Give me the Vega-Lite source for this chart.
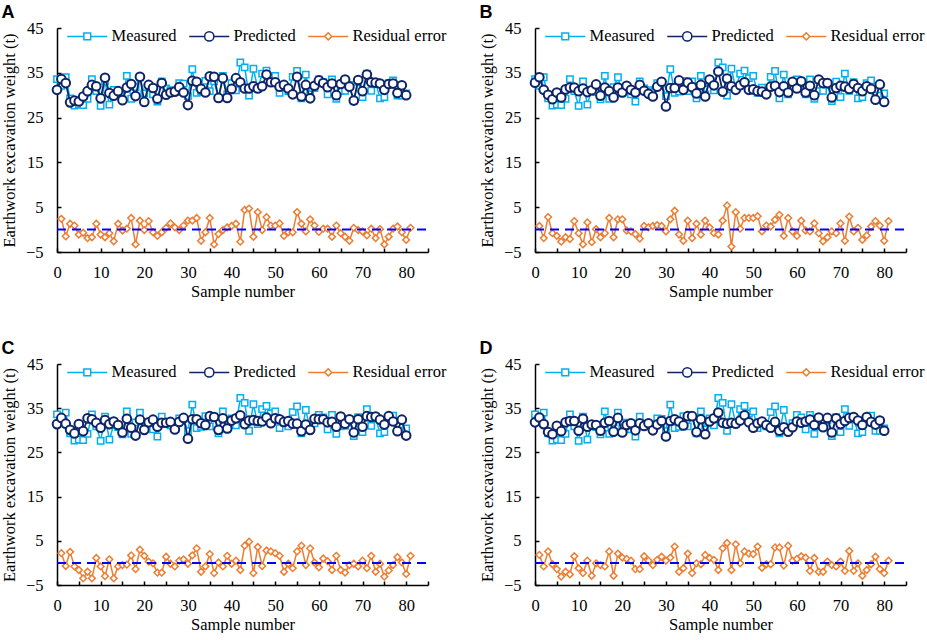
{
  "$schema": "https://vega.github.io/schema/vega-lite/v6.json",
  "background": "white",
  "padding": {"left": 1, "top": 4, "right": 0, "bottom": 0},
  "datasets": {
    "rows": [
      {"n":0,"m":33.6,"pA":31.2,"pB":32.8,"pC":31.4,"pD":31.8},
      {"n":1,"m":32.1,"pA":33.6,"rA":2.4,"pB":34.0,"rB":0.8,"pC":32.8,"rC":2.2,"pD":32.9,"rD":1.8},
      {"n":2,"m":34.0,"pA":32.7,"rA":-1.5,"pB":31.2,"rB":-1.9,"pC":31.5,"rC":-0.7,"pD":31.4,"rD":-0.8},
      {"n":3,"m":29.3,"pA":28.4,"rA":1.3,"pB":30.1,"rB":2.8,"pC":30.1,"rC":2.5,"pD":29.6,"rD":2.6},
      {"n":4,"m":27.7,"pA":28.8,"rA":0.9,"pB":29.1,"rB":-0.8,"pC":29.3,"rC":-0.8,"pD":29.1,"rD":-0.3},
      {"n":5,"m":27.9,"pA":28.6,"rA":-1.1,"pB":30.6,"rB":-1.4,"pC":31.4,"rC":-1.6,"pD":31.0,"rD":-1.4},
      {"n":6,"m":27.8,"pA":29.7,"rA":-0.7,"pB":29.5,"rB":-2.7,"pC":29.8,"rC":-3.5,"pD":29.8,"rD":-3.1},
      {"n":7,"m":29.2,"pA":30.9,"rA":-1.9,"pB":31.3,"rB":-1.7,"pC":32.7,"rC":-2.0,"pD":31.8,"rD":-2.0},
      {"n":8,"m":33.6,"pA":32.3,"rA":-1.7,"pB":31.7,"rB":-2.1,"pC":32.5,"rC":-3.5,"pD":32.1,"rD":-2.6},
      {"n":9,"m":30.9,"pA":32.0,"rA":1.3,"pB":31.7,"rB":1.9,"pC":31.7,"rC":1.1,"pD":32.1,"rD":1.5},
      {"n":10,"m":27.6,"pA":29.3,"rA":-1.1,"pB":30.9,"rB":-0.8,"pC":30.6,"rC":-0.8,"pD":29.9,"rD":-1.2},
      {"n":11,"m":33.1,"pA":33.9,"rA":-1.7,"pB":31.5,"rB":-3.3,"pC":32.3,"rC":-3.0,"pD":32.6,"rD":-2.3},
      {"n":12,"m":27.9,"pA":30.5,"rA":-0.8,"pB":30.7,"rB":1.6,"pC":31.4,"rC":0.8,"pD":30.8,"rD":0.5},
      {"n":13,"m":31.2,"pA":29.9,"rA":-2.6,"pB":31.1,"rB":-2.8,"pC":32.0,"rC":-3.5,"pD":31.3,"rD":-2.9},
      {"n":14,"m":30.7,"pA":30.9,"rA":1.3,"pB":32.4,"rB":0.1,"pC":31.2,"rC":-0.8,"pD":31.2,"rD":-0.1},
      {"n":15,"m":29.1,"pA":28.9,"rA":-0.2,"pB":29.9,"rB":-1.7,"pC":29.5,"rC":-0.5,"pD":29.9,"rD":-0.5},
      {"n":16,"m":34.3,"pA":31.7,"rA":0.2,"pB":31.7,"rB":-0.8,"pC":32.6,"rC":-0.4,"pD":31.7,"rD":-0.8},
      {"n":17,"m":29.2,"pA":32.5,"rA":2.6,"pB":30.9,"rB":2.6,"pC":30.6,"rC":1.7,"pD":32.1,"rD":2.6},
      {"n":18,"m":31.8,"pA":29.8,"rA":-3.3,"pB":29.5,"rB":-1.7,"pC":28.8,"rC":-1.4,"pD":29.7,"rD":-2.9},
      {"n":19,"m":34.0,"pA":34.1,"rA":2.0,"pB":31.7,"rB":2.3,"pC":32.4,"rC":3.0,"pD":32.8,"rD":2.1},
      {"n":20,"m":30.4,"pA":28.5,"rA":-0.1,"pB":30.6,"rB":2.3,"pC":30.1,"rC":1.6,"pD":29.5,"rD":1.2},
      {"n":21,"m":31.7,"pA":32.3,"rA":1.9,"pB":32.1,"rB":-0.2,"pC":31.8,"rC":0.3,"pD":31.2,"rD":0.9},
      {"n":22,"m":30.2,"pA":31.6,"rA":-0.6,"pB":31.2,"rB":-0.4,"pC":32.4,"rC":-0.1,"pD":31.6,"rD":0.5},
      {"n":23,"m":28.6,"pA":29.2,"rA":-1.4,"pB":30.6,"rB":-1.0,"pC":30.8,"rC":-2.2,"pD":30.0,"rD":-1.4},
      {"n":24,"m":33.1,"pA":32.7,"rA":-0.6,"pB":32.3,"rB":-2.0,"pC":31.7,"rC":-2.2,"pD":31.6,"rD":-1.4},
      {"n":25,"m":31.5,"pA":30.1,"rA":0.4,"pB":31.0,"rB":0.8,"pC":31.7,"rC":1.4,"pD":31.0,"rD":1.5},
      {"n":26,"m":31.1,"pA":30.6,"rA":1.4,"pB":30.3,"rB":0.5,"pC":31.9,"rC":-0.2,"pD":31.6,"rD":0.5},
      {"n":27,"m":30.7,"pA":30.8,"rA":0.5,"pB":29.7,"rB":0.8,"pC":30.2,"rC":-0.8,"pD":30.0,"rD":-0.5},
      {"n":28,"m":32.7,"pA":31.8,"rA":-0.1,"pB":31.9,"rB":1.0,"pC":31.9,"rC":0.5,"pD":31.3,"rD":0.7},
      {"n":29,"m":32.6,"pA":30.6,"rA":0.9,"pB":33.0,"rB":0.8,"pC":32.8,"rC":0.8,"pD":32.1,"rD":1.4},
      {"n":30,"m":29.8,"pA":27.8,"rA":2.0,"pB":27.5,"rB":-0.4,"pC":28.1,"rC":-0.2,"pD":28.6,"rD":0.5},
      {"n":31,"m":35.8,"pA":33.2,"rA":2.0,"pB":31.6,"rB":2.3,"pC":32.5,"rC":1.7,"pD":32.1,"rD":1.2},
      {"n":32,"m":30.5,"pA":33.0,"rA":2.6,"pB":31.6,"rB":4.2,"pC":32.5,"rC":3.3,"pD":32.5,"rD":3.7},
      {"n":33,"m":30.8,"pA":31.4,"rA":-2.5,"pB":33.3,"rB":-1.1,"pC":31.6,"rC":-2.0,"pD":32.0,"rD":-2.0},
      {"n":34,"m":33.2,"pA":30.6,"rA":-0.6,"pB":31.2,"rB":-2.5,"pC":31.2,"rC":-0.8,"pD":31.1,"rD":-1.2},
      {"n":35,"m":30.9,"pA":34.2,"rA":2.6,"pB":32.8,"rB":2.0,"pC":33.2,"rC":2.0,"pD":33.2,"rD":2.1},
      {"n":36,"m":33.1,"pA":34.1,"rA":-3.3,"pB":31.8,"rB":-1.9,"pC":33.0,"rC":-2.3,"pD":33.2,"rD":-2.3},
      {"n":37,"m":29.3,"pA":29.4,"rA":-1.0,"pB":30.4,"rB":1.3,"pC":30.1,"rC":0.1,"pD":29.6,"rD":-0.1},
      {"n":38,"m":34.3,"pA":33.8,"rA":-0.1,"pB":32.3,"rB":-1.1,"pC":32.7,"rC":-0.8,"pD":32.5,"rD":-0.3},
      {"n":39,"m":30.2,"pA":29.4,"rA":0.5,"pB":29.7,"rB":2.0,"pC":30.4,"rC":1.6,"pD":29.1,"rD":1.8},
      {"n":40,"m":32.7,"pA":31.4,"rA":0.8,"pB":33.5,"rB":0.5,"pC":32.2,"rC":-0.2,"pD":32.0,"rD":1.1},
      {"n":41,"m":31.1,"pA":33.8,"rA":1.3,"pB":32.2,"rB":-0.8,"pC":32.7,"rC":0.5,"pD":32.7,"rD":0.7},
      {"n":42,"m":37.3,"pA":32.9,"rA":-2.7,"pB":35.3,"rB":-1.1,"pC":33.4,"rC":-1.6,"pD":34.0,"rD":-1.6},
      {"n":43,"m":36.2,"pA":31.5,"rA":4.4,"pB":30.8,"rB":2.0,"pC":31.4,"rC":3.9,"pD":31.7,"rD":3.3},
      {"n":44,"m":29.9,"pA":31.5,"rA":4.7,"pB":33.7,"rB":5.4,"pC":32.2,"rC":4.8,"pD":31.5,"rD":4.5},
      {"n":45,"m":35.9,"pA":32.0,"rA":-1.6,"pB":32.0,"rB":-3.8,"pC":32.3,"rC":-2.3,"pD":31.7,"rD":-1.6},
      {"n":46,"m":31.4,"pA":31.5,"rA":3.9,"pB":31.2,"rB":3.9,"pC":32.1,"rC":3.6,"pD":31.5,"rD":4.2},
      {"n":47,"m":34.8,"pA":32.0,"rA":-0.1,"pB":32.2,"rB":0.2,"pC":32.0,"rC":-0.7,"pD":32.2,"rD":-0.1},
      {"n":48,"m":35.5,"pA":34.6,"rA":2.8,"pB":32.9,"rB":2.6,"pC":32.9,"rC":2.8,"pD":33.4,"rD":2.6},
      {"n":49,"m":33.8,"pA":32.9,"rA":0.9,"pB":31.2,"rB":2.6,"pC":31.6,"rC":2.6,"pD":31.8,"rD":2.1},
      {"n":50,"m":34.3,"pA":32.9,"rA":0.9,"pB":31.3,"rB":2.6,"pC":32.7,"rC":2.2,"pD":30.6,"rD":2.0},
      {"n":51,"m":30.5,"pA":31.9,"rA":1.4,"pB":30.9,"rB":3.0,"pC":32.5,"rC":1.6,"pD":31.6,"rD":3.7},
      {"n":52,"m":31.7,"pA":32.3,"rA":-1.4,"pB":30.8,"rB":-0.4,"pC":31.9,"rC":-2.0,"pD":32.0,"rD":-1.1},
      {"n":53,"m":30.9,"pA":31.5,"rA":-0.6,"pB":30.2,"rB":0.9,"pC":32.1,"rC":-0.2,"pD":31.2,"rD":-0.3},
      {"n":54,"m":34.1,"pA":30.2,"rA":-0.6,"pB":31.9,"rB":0.7,"pC":31.5,"rC":-1.2,"pD":30.6,"rD":-0.3},
      {"n":55,"m":35.4,"pA":34.1,"rA":3.9,"pB":32.1,"rB":2.2,"pC":31.5,"rC":2.6,"pD":31.9,"rD":3.5},
      {"n":56,"m":29.3,"pA":29.7,"rA":1.3,"pB":30.7,"rB":3.3,"pC":29.8,"rC":3.9,"pD":29.9,"rD":3.5},
      {"n":57,"m":34.6,"pA":32.3,"rA":-0.4,"pB":32.0,"rB":-1.4,"pC":31.3,"rC":-0.5,"pD":30.7,"rD":-0.6},
      {"n":58,"m":30.2,"pA":29.3,"rA":2.3,"pB":30.6,"rB":2.6,"pC":30.1,"rC":3.3,"pD":29.7,"rD":3.9},
      {"n":59,"m":31.6,"pA":32.1,"rA":0.9,"pB":33.0,"rB":-0.4,"pC":32.6,"rC":0.1,"pD":30.7,"rD":0.5},
      {"n":60,"m":33.5,"pA":33.3,"rA":-0.5,"pB":31.5,"rB":-1.4,"pC":32.5,"rC":-1.0,"pD":32.0,"rD":0.9},
      {"n":61,"m":32.9,"pA":32.7,"rA":0.2,"pB":33.1,"rB":2.0,"pC":32.5,"rC":1.0,"pD":31.7,"rD":1.5},
      {"n":62,"m":30.2,"pA":31.8,"rA":0.2,"pB":30.6,"rB":-0.2,"pC":31.8,"rC":0.4,"pD":32.0,"rD":1.2},
      {"n":63,"m":33.5,"pA":32.6,"rA":-1.6,"pB":32.1,"rB":-0.4,"pC":31.9,"rC":-1.6,"pD":32.4,"rD":-1.8},
      {"n":64,"m":29.2,"pA":30.0,"rA":0.9,"pB":30.0,"rB":1.4,"pC":30.8,"rC":1.6,"pD":31.2,"rD":1.1},
      {"n":65,"m":30.9,"pA":32.5,"rA":-0.8,"pB":33.5,"rB":-0.8,"pC":33.1,"rC":-1.6,"pD":32.9,"rD":-2.0},
      {"n":66,"m":31.0,"pA":33.5,"rA":-1.6,"pB":32.7,"rB":-2.6,"pC":31.5,"rC":-2.2,"pD":30.7,"rD":-2.0},
      {"n":67,"m":32.3,"pA":31.9,"rA":-2.5,"pB":32.7,"rB":-1.7,"pC":32.5,"rC":-0.5,"pD":32.8,"rD":0.3},
      {"n":68,"m":28.7,"pA":28.8,"rA":0.4,"pB":29.5,"rB":-0.4,"pC":29.5,"rC":-0.2,"pD":29.5,"rD":-0.5},
      {"n":69,"m":33.0,"pA":33.4,"rA":-0.1,"pB":31.6,"rB":-0.8,"pC":32.5,"rC":-0.8,"pD":32.7,"rD":-0.8},
      {"n":70,"m":29.6,"pA":30.9,"rA":-0.4,"pB":32.1,"rB":1.4,"pC":30.8,"rC":0.5,"pD":31.4,"rD":0.3},
      {"n":71,"m":34.8,"pA":34.6,"rA":-1.3,"pB":31.9,"rB":-2.5,"pC":33.2,"rC":-1.2,"pD":32.1,"rD":-1.8},
      {"n":72,"m":31.0,"pA":32.9,"rA":0.2,"pB":31.4,"rB":2.9,"pC":33.0,"rC":1.6,"pD":32.8,"rD":2.7},
      {"n":73,"m":32.9,"pA":32.8,"rA":-1.9,"pB":32.5,"rB":-0.4,"pC":33.1,"rC":-2.0,"pD":33.0,"rD":-1.8},
      {"n":74,"m":29.3,"pA":32.6,"rA":0.1,"pB":31.6,"rB":0.4,"pC":32.4,"rC":-0.2,"pD":32.2,"rD":-0.1},
      {"n":75,"m":29.6,"pA":31.2,"rA":-3.3,"pB":30.9,"rB":-2.3,"pC":31.3,"rC":-3.1,"pD":31.2,"rD":-2.9},
      {"n":76,"m":32.7,"pA":32.5,"rA":-1.6,"pB":32.0,"rB":-1.3,"pC":33.2,"rC":-1.7,"pD":33.0,"rD":-1.6},
      {"n":77,"m":33.3,"pA":32.6,"rA":0.2,"pB":31.4,"rB":0.7,"pC":32.0,"rC":-0.5,"pD":31.9,"rD":-0.3},
      {"n":78,"m":29.9,"pA":30.5,"rA":0.7,"pB":29.0,"rB":1.9,"pC":29.8,"rC":1.3,"pD":31.3,"rD":1.4},
      {"n":79,"m":29.9,"pA":32.2,"rA":-0.6,"pB":32.4,"rB":0.9,"pC":32.4,"rC":0.1,"pD":32.2,"rD":-1.4},
      {"n":80,"m":30.4,"pA":30.0,"rA":-2.3,"pB":28.5,"rB":-2.5,"pC":28.8,"rC":-2.5,"pD":29.9,"rD":-2.3},
      {"n":81,"rA":0.4,"rB":1.9,"rC":1.6,"rD":0.5}
    ]
  },
  "data": {"name": "rows"},
  "columns": 2,
  "spacing": {"row": 40, "column": 32},
  "resolve": {"scale": {"color": "independent"}, "legend": {"color": "independent"}},
  "concat": [
    {
      "title": {"text": "A"},
      "width": 371,
      "height": 224,
      "encoding": {
        "x": {"field": "n", "type": "quantitative", "title": "Sample number",
              "scale": {"domain": [0, 85], "nice": false, "zero": false},
              "axis": {"values": [0,5,10,15,20,25,30,35,40,45,50,55,60,65,70,75,80,85],
                       "labelExpr": "datum.value % 10 === 0 && datum.value <= 80 ? datum.label : ''"}}
      },
      "layer": [
        {
          "mark": {"type": "line", "strokeWidth": 1.5, "point": {"shape": "square", "filled": false, "fill": "white", "size": 40, "strokeWidth": 1.5}},
          "encoding": {
            "y": {"field": "m", "type": "quantitative", "title": "Earthwork excavation weight (t)",
                  "scale": {"domain": [-5, 45], "nice": false, "zero": false},
                  "axis": {"values": [-5,0,5,10,15,20,25,30,35,40,45], "labelExpr": "datum.value % 10 === 0 ? '' : datum.label"}},
            "color": {"datum": "Measured",
                      "scale": {"domain": ["Measured", "Predicted", "Residual error"], "range": ["#00B0F0", "#0F2467", "#ED7D31"]},
                      "legend": {"orient": "none", "legendX": 10, "legendY": 0, "direction": "horizontal", "title": null,
                                 "encode": {"symbols": {"update": {
                                   "shape": {"signal": "datum.value === 'Measured' ? 'M-5,0H-0.85M0.85,0H5M-0.85,-0.85H0.85V0.85H-0.85Z' : datum.value === 'Predicted' ? 'M-5,0H-1.15M1.15,0H5M-1.15,0A1.15,1.15,0,1,1,1.15,0A1.15,1.15,0,1,1,-1.15,0Z' : 'M-5,0H-0.9M0.9,0H5M-0.9,0L0,-0.9L0.9,0L0,0.9Z'"},
                                   "fill": {"value": "white"}}}}}}
          }
        },
        {
          "mark": {"type": "line", "strokeWidth": 1.8, "point": {"shape": "circle", "filled": false, "fill": "white", "size": 75, "strokeWidth": 2}},
          "encoding": {"y": {"field": "pA", "type": "quantitative", "title": "Earthwork excavation weight (t)",
                  "scale": {"domain": [-5, 45], "nice": false, "zero": false},
                  "axis": {"values": [-5,0,5,10,15,20,25,30,35,40,45], "labelExpr": "datum.value % 10 === 0 ? '' : datum.label"}},
                       "color": {"datum": "Predicted"}}
        },
        {
          "mark": {"type": "line", "strokeWidth": 1.5, "point": {"shape": "diamond", "filled": false, "fill": "white", "size": 45, "strokeWidth": 1.5}},
          "encoding": {"y": {"field": "rA", "type": "quantitative", "title": "Earthwork excavation weight (t)",
                  "scale": {"domain": [-5, 45], "nice": false, "zero": false},
                  "axis": {"values": [-5,0,5,10,15,20,25,30,35,40,45], "labelExpr": "datum.value % 10 === 0 ? '' : datum.label"}},
                       "color": {"datum": "Residual error"}}
        },
        {
          "transform": [{"filter": "datum.n === 0"}],
          "mark": {"type": "rule", "color": "#0000FF", "strokeWidth": 2, "strokeDash": [9, 6]},
          "encoding": {"x": {"datum": 0}, "x2": {"datum": 85}, "y": {"datum": 0}}
        }
      ]
    },
    {
      "title": {"text": "B"},
      "width": 371,
      "height": 224,
      "encoding": {
        "x": {"field": "n", "type": "quantitative", "title": "Sample number",
              "scale": {"domain": [0, 85], "nice": false, "zero": false},
              "axis": {"values": [0,5,10,15,20,25,30,35,40,45,50,55,60,65,70,75,80,85],
                       "labelExpr": "datum.value % 10 === 0 && datum.value <= 80 ? datum.label : ''"}}
      },
      "layer": [
        {
          "mark": {"type": "line", "strokeWidth": 1.5, "point": {"shape": "square", "filled": false, "fill": "white", "size": 40, "strokeWidth": 1.5}},
          "encoding": {
            "y": {"field": "m", "type": "quantitative", "title": "Earthwork excavation weight (t)",
                  "scale": {"domain": [-5, 45], "nice": false, "zero": false},
                  "axis": {"values": [-5,0,5,10,15,20,25,30,35,40,45], "labelExpr": "datum.value % 10 === 0 ? '' : datum.label"}},
            "color": {"datum": "Measured",
                      "scale": {"domain": ["Measured", "Predicted", "Residual error"], "range": ["#00B0F0", "#0F2467", "#ED7D31"]},
                      "legend": {"orient": "none", "legendX": 10, "legendY": 0, "direction": "horizontal", "title": null,
                                 "encode": {"symbols": {"update": {
                                   "shape": {"signal": "datum.value === 'Measured' ? 'M-5,0H-0.85M0.85,0H5M-0.85,-0.85H0.85V0.85H-0.85Z' : datum.value === 'Predicted' ? 'M-5,0H-1.15M1.15,0H5M-1.15,0A1.15,1.15,0,1,1,1.15,0A1.15,1.15,0,1,1,-1.15,0Z' : 'M-5,0H-0.9M0.9,0H5M-0.9,0L0,-0.9L0.9,0L0,0.9Z'"},
                                   "fill": {"value": "white"}}}}}}
          }
        },
        {
          "mark": {"type": "line", "strokeWidth": 1.8, "point": {"shape": "circle", "filled": false, "fill": "white", "size": 75, "strokeWidth": 2}},
          "encoding": {"y": {"field": "pB", "type": "quantitative", "title": "Earthwork excavation weight (t)",
                  "scale": {"domain": [-5, 45], "nice": false, "zero": false},
                  "axis": {"values": [-5,0,5,10,15,20,25,30,35,40,45], "labelExpr": "datum.value % 10 === 0 ? '' : datum.label"}},
                       "color": {"datum": "Predicted"}}
        },
        {
          "mark": {"type": "line", "strokeWidth": 1.5, "point": {"shape": "diamond", "filled": false, "fill": "white", "size": 45, "strokeWidth": 1.5}},
          "encoding": {"y": {"field": "rB", "type": "quantitative", "title": "Earthwork excavation weight (t)",
                  "scale": {"domain": [-5, 45], "nice": false, "zero": false},
                  "axis": {"values": [-5,0,5,10,15,20,25,30,35,40,45], "labelExpr": "datum.value % 10 === 0 ? '' : datum.label"}},
                       "color": {"datum": "Residual error"}}
        },
        {
          "transform": [{"filter": "datum.n === 0"}],
          "mark": {"type": "rule", "color": "#0000FF", "strokeWidth": 2, "strokeDash": [9, 6]},
          "encoding": {"x": {"datum": 0}, "x2": {"datum": 85}, "y": {"datum": 0}}
        }
      ]
    },
    {
      "title": {"text": "C"},
      "width": 371,
      "height": 221,
      "encoding": {
        "x": {"field": "n", "type": "quantitative", "title": "Sample number",
              "scale": {"domain": [0, 85], "nice": false, "zero": false},
              "axis": {"values": [0,5,10,15,20,25,30,35,40,45,50,55,60,65,70,75,80,85],
                       "labelExpr": "datum.value % 10 === 0 && datum.value <= 80 ? datum.label : ''"}}
      },
      "layer": [
        {
          "mark": {"type": "line", "strokeWidth": 1.5, "point": {"shape": "square", "filled": false, "fill": "white", "size": 40, "strokeWidth": 1.5}},
          "encoding": {
            "y": {"field": "m", "type": "quantitative", "title": "Earthwork excavation weight (t)",
                  "scale": {"domain": [-5, 45], "nice": false, "zero": false},
                  "axis": {"values": [-5,0,5,10,15,20,25,30,35,40,45], "labelExpr": "datum.value % 10 === 0 ? '' : datum.label"}},
            "color": {"datum": "Measured",
                      "scale": {"domain": ["Measured", "Predicted", "Residual error"], "range": ["#00B0F0", "#0F2467", "#ED7D31"]},
                      "legend": {"orient": "none", "legendX": 10, "legendY": 0, "direction": "horizontal", "title": null,
                                 "encode": {"symbols": {"update": {
                                   "shape": {"signal": "datum.value === 'Measured' ? 'M-5,0H-0.85M0.85,0H5M-0.85,-0.85H0.85V0.85H-0.85Z' : datum.value === 'Predicted' ? 'M-5,0H-1.15M1.15,0H5M-1.15,0A1.15,1.15,0,1,1,1.15,0A1.15,1.15,0,1,1,-1.15,0Z' : 'M-5,0H-0.9M0.9,0H5M-0.9,0L0,-0.9L0.9,0L0,0.9Z'"},
                                   "fill": {"value": "white"}}}}}}
          }
        },
        {
          "mark": {"type": "line", "strokeWidth": 1.8, "point": {"shape": "circle", "filled": false, "fill": "white", "size": 75, "strokeWidth": 2}},
          "encoding": {"y": {"field": "pC", "type": "quantitative", "title": "Earthwork excavation weight (t)",
                  "scale": {"domain": [-5, 45], "nice": false, "zero": false},
                  "axis": {"values": [-5,0,5,10,15,20,25,30,35,40,45], "labelExpr": "datum.value % 10 === 0 ? '' : datum.label"}},
                       "color": {"datum": "Predicted"}}
        },
        {
          "mark": {"type": "line", "strokeWidth": 1.5, "point": {"shape": "diamond", "filled": false, "fill": "white", "size": 45, "strokeWidth": 1.5}},
          "encoding": {"y": {"field": "rC", "type": "quantitative", "title": "Earthwork excavation weight (t)",
                  "scale": {"domain": [-5, 45], "nice": false, "zero": false},
                  "axis": {"values": [-5,0,5,10,15,20,25,30,35,40,45], "labelExpr": "datum.value % 10 === 0 ? '' : datum.label"}},
                       "color": {"datum": "Residual error"}}
        },
        {
          "transform": [{"filter": "datum.n === 0"}],
          "mark": {"type": "rule", "color": "#0000FF", "strokeWidth": 2, "strokeDash": [9, 6]},
          "encoding": {"x": {"datum": 0}, "x2": {"datum": 85}, "y": {"datum": 0}}
        }
      ]
    },
    {
      "title": {"text": "D"},
      "width": 371,
      "height": 221,
      "encoding": {
        "x": {"field": "n", "type": "quantitative", "title": "Sample number",
              "scale": {"domain": [0, 85], "nice": false, "zero": false},
              "axis": {"values": [0,5,10,15,20,25,30,35,40,45,50,55,60,65,70,75,80,85],
                       "labelExpr": "datum.value % 10 === 0 && datum.value <= 80 ? datum.label : ''"}}
      },
      "layer": [
        {
          "mark": {"type": "line", "strokeWidth": 1.5, "point": {"shape": "square", "filled": false, "fill": "white", "size": 40, "strokeWidth": 1.5}},
          "encoding": {
            "y": {"field": "m", "type": "quantitative", "title": "Earthwork excavation weight (t)",
                  "scale": {"domain": [-5, 45], "nice": false, "zero": false},
                  "axis": {"values": [-5,0,5,10,15,20,25,30,35,40,45], "labelExpr": "datum.value % 10 === 0 ? '' : datum.label"}},
            "color": {"datum": "Measured",
                      "scale": {"domain": ["Measured", "Predicted", "Residual error"], "range": ["#00B0F0", "#0F2467", "#ED7D31"]},
                      "legend": {"orient": "none", "legendX": 10, "legendY": 0, "direction": "horizontal", "title": null,
                                 "encode": {"symbols": {"update": {
                                   "shape": {"signal": "datum.value === 'Measured' ? 'M-5,0H-0.85M0.85,0H5M-0.85,-0.85H0.85V0.85H-0.85Z' : datum.value === 'Predicted' ? 'M-5,0H-1.15M1.15,0H5M-1.15,0A1.15,1.15,0,1,1,1.15,0A1.15,1.15,0,1,1,-1.15,0Z' : 'M-5,0H-0.9M0.9,0H5M-0.9,0L0,-0.9L0.9,0L0,0.9Z'"},
                                   "fill": {"value": "white"}}}}}}
          }
        },
        {
          "mark": {"type": "line", "strokeWidth": 1.8, "point": {"shape": "circle", "filled": false, "fill": "white", "size": 75, "strokeWidth": 2}},
          "encoding": {"y": {"field": "pD", "type": "quantitative", "title": "Earthwork excavation weight (t)",
                  "scale": {"domain": [-5, 45], "nice": false, "zero": false},
                  "axis": {"values": [-5,0,5,10,15,20,25,30,35,40,45], "labelExpr": "datum.value % 10 === 0 ? '' : datum.label"}},
                       "color": {"datum": "Predicted"}}
        },
        {
          "mark": {"type": "line", "strokeWidth": 1.5, "point": {"shape": "diamond", "filled": false, "fill": "white", "size": 45, "strokeWidth": 1.5}},
          "encoding": {"y": {"field": "rD", "type": "quantitative", "title": "Earthwork excavation weight (t)",
                  "scale": {"domain": [-5, 45], "nice": false, "zero": false},
                  "axis": {"values": [-5,0,5,10,15,20,25,30,35,40,45], "labelExpr": "datum.value % 10 === 0 ? '' : datum.label"}},
                       "color": {"datum": "Residual error"}}
        },
        {
          "transform": [{"filter": "datum.n === 0"}],
          "mark": {"type": "rule", "color": "#0000FF", "strokeWidth": 2, "strokeDash": [9, 6]},
          "encoding": {"x": {"datum": 0}, "x2": {"datum": 85}, "y": {"datum": 0}}
        }
      ]
    }
  ],
  "config": {
    "font": "Liberation Serif",
    "view": {"stroke": null},
    "axis": {
      "grid": false, "domainColor": "#000000", "domainWidth": 1.5,
      "tickColor": "#000000", "tickWidth": 1.5, "tickSize": -4,
      "labelFont": "Liberation Serif", "labelFontSize": 16.5, "labelColor": "#000000",
      "labelFlush": false, "labelOverlap": false,
      "titleFont": "Liberation Serif", "titleFontSize": 16.5, "titleFontWeight": "normal", "titleColor": "#000000"
    },
    "axisX": {"labelPadding": 16, "titlePadding": 3},
    "axisY": {"labelPadding": 18, "titlePadding": 8},
    "legend": {
      "padding": 0, "labelFont": "Liberation Serif", "labelFontSize": 16.5, "labelColor": "#000000", "labelLimit": 0,
      "symbolSize": 64, "symbolStrokeWidth": 1.5, "symbolOffset": 12, "labelOffset": 16, "columnPadding": 9
    },
    "title": {"font": "Liberation Sans", "fontSize": 18, "fontWeight": "bold", "color": "#000000", "anchor": "start", "frame": "bounds", "offset": -2}
  }
}
